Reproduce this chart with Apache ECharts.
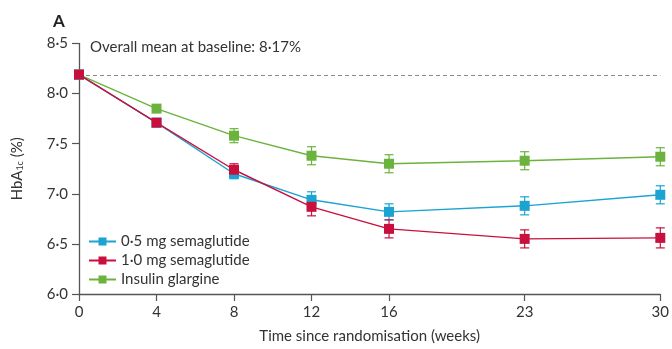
<!DOCTYPE html>
<html><head><meta charset="utf-8">
<script src="https://cdn.jsdelivr.net/npm/echarts@6/dist/echarts.min.js"></script>
<style>html,body{margin:0;padding:0;background:#fff}#c{width:672px;height:349px}</style>
</head><body><div id="c"></div>
<script>
const weeks = [0, 4, 8, 12, 16, 23, 30];
const xTicks = [0, 4, 8, 12, 16, 23, 30];
const sema05 = [8.19, 7.71, 7.20, 6.94, 6.82, 6.88, 6.99];
const sema05Err = [0.0, 0.03, 0.05, 0.08, 0.08, 0.09, 0.09];
const sema10 = [8.19, 7.71, 7.24, 6.87, 6.65, 6.55, 6.56];
const sema10Err = [0.0, 0.03, 0.06, 0.09, 0.09, 0.09, 0.10];
const glargine = [8.19, 7.85, 7.58, 7.38, 7.30, 7.33, 7.37];
const glargineErr = [0.0, 0.03, 0.07, 0.09, 0.09, 0.09, 0.09];
const baselineMean = 8.18;
const names = ['0·5 mg semaglutide', '1·0 mg semaglutide', 'Insulin glargine'];
const colors = ['#1ba3d2', '#c8103e', '#6cb33e'];

const fmtY = v => v.toFixed(1).replace('.', '·');
const FONT = 'Lato';
const FS = 15;

function lineSeries(name, vals, color, z) {
  return {
    name, type: 'line', z,
    data: weeks.map((w, i) => [w, vals[i]]),
    symbol: 'rect', symbolSize: 10,
    lineStyle: { color, width: 1.4 },
    itemStyle: { color },
    smooth: false
  };
}
function errSeries(vals, errs, color, z) {
  return {
    type: 'custom', z, silent: true,
    data: weeks.map((w, i) => [w, vals[i] - errs[i], vals[i] + errs[i]]),
    renderItem(params, api) {
      const lo = api.coord([api.value(0), api.value(1)]);
      const hi = api.coord([api.value(0), api.value(2)]);
      const hw = 4.5;
      const st = { stroke: color, lineWidth: 1.2 };
      return { type: 'group', children: [
        { type: 'line', shape: { x1: lo[0], y1: lo[1], x2: hi[0], y2: hi[1] }, style: st },
        { type: 'line', shape: { x1: lo[0] - hw, y1: lo[1], x2: lo[0] + hw, y2: lo[1] }, style: st },
        { type: 'line', shape: { x1: hi[0] - hw, y1: hi[1], x2: hi[0] + hw, y2: hi[1] }, style: st }
      ]};
    }
  };
}

const chart = echarts.init(document.getElementById('c'), null, { renderer: 'canvas' });
chart.setOption({
  animation: false,
  textStyle: { fontFamily: FONT },
  grid: { left: 79, right: 7, top: 43.5, bottom: 52 },
  title: [
    { text: 'A', left: 53, top: 13, padding: 0, textStyle: { fontFamily: FONT, fontSize: 17, fontWeight: 'bold', color: '#222' } },
    { text: 'Overall mean at baseline: 8·17%', left: 90, top: 40, padding: 0, textStyle: { fontFamily: FONT, fontSize: FS, fontWeight: 'normal', color: '#333' } }
  ],
  legend: {
    data: names, orient: 'vertical', left: 88, top: 234, padding: 0,
    itemWidth: 27, itemHeight: 10, itemGap: 4,
    textStyle: { fontFamily: FONT, fontSize: FS, color: '#333' }
  },
  xAxis: {
    type: 'value', min: 0, max: 30,
    name: 'Time since randomisation (weeks)', nameLocation: 'middle', nameGap: 35,
    nameTextStyle: { fontFamily: FONT, fontSize: FS, color: '#333' },
    axisLine: { lineStyle: { color: '#555', width: 1.3 } },
    axisTick: { show: true, length: 7, lineStyle: { color: '#555', width: 1.2 }, customValues: xTicks },
    axisLabel: { fontFamily: FONT, fontSize: FS, color: '#333', margin: 11, customValues: xTicks, formatter: v => String(v) },
    splitLine: { show: false }
  },
  yAxis: {
    type: 'value', min: 6.0, max: 8.5, interval: 0.5,
    name: '{a|HbA}{s|1c}{a| (%)}', nameLocation: 'middle', nameGap: 54, nameRotate: 90,
    nameTextStyle: { rich: {
      a: { fontFamily: FONT, fontSize: FS, color: '#333' },
      s: { fontFamily: FONT, fontSize: 9, color: '#333', verticalAlign: 'bottom', padding: [7, 0, 0, 0] }
    } },
    axisLine: { show: true, lineStyle: { color: '#555', width: 1.3 } },
    axisTick: { show: true, length: 7, lineStyle: { color: '#555', width: 1.2 } },
    axisLabel: { fontFamily: FONT, fontSize: FS, color: '#333', margin: 11, formatter: v => fmtY(v) },
    splitLine: { show: false }
  },
  series: [
    errSeries(glargine, glargineErr, colors[2], 3),
    errSeries(sema05, sema05Err, colors[0], 4),
    errSeries(sema10, sema10Err, colors[1], 5),
    lineSeries(names[2], glargine, colors[2], 6),
    lineSeries(names[0], sema05, colors[0], 7),
    lineSeries(names[1], sema10, colors[1], 8),
    {
      type: 'line', silent: true, data: [], z: 1,
      markLine: {
        symbol: 'none', silent: true, label: { show: false },
        lineStyle: { color: '#8a8a8a', type: [4, 3], width: 1 },
        data: [{ yAxis: baselineMean }]
      }
    }
  ]
});
</script></body></html>
